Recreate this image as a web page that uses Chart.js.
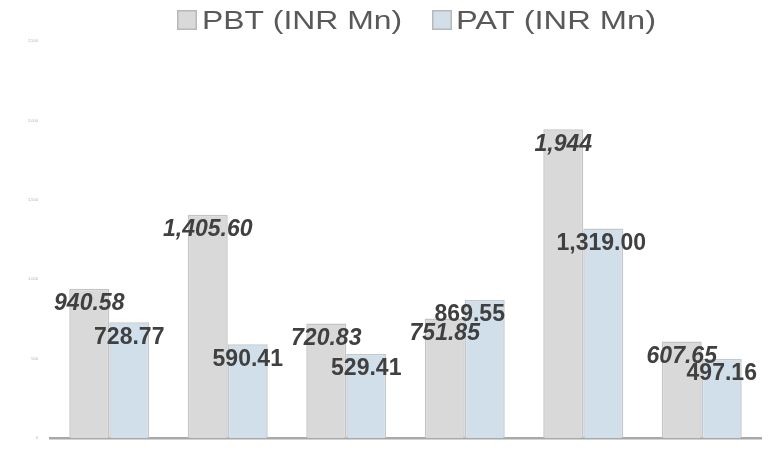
<!DOCTYPE html>
<html>
<head>
<meta charset="utf-8">
<script src="https://cdn.jsdelivr.net/npm/chart.js@4/dist/chart.umd.min.js"></script>
<style>
  html, body { margin: 0; padding: 0; background: #ffffff; }
  #wrap { width: 774px; height: 456px; position: relative; }
</style>
</head>
<body>
<div id="wrap"><canvas id="c" width="774" height="456"></canvas></div>
<script>
// ---- data ----
const categories = ["Period 1", "Period 2", "Period 3", "Period 4", "Period 5", "Period 6"];
const seriesNames = ["PBT (INR Mn)", "PAT (INR Mn)"];
const pbtValues = [940.58, 1405.60, 720.83, 751.85, 1944, 607.65];
const patValues = [728.77, 590.41, 529.41, 869.55, 1319.00, 497.16];
const pbtLabels = ["940.58", "1,405.60", "720.83", "751.85", "1,944", "607.65"];
const patLabels = ["728.77", "590.41", "529.41", "869.55", "1,319.00", "497.16"];
const yTicks = [0, 500, 1000, 1500, 2000, 2500];
const yTickLabels = ["0", "500", "1,000", "1,500", "2,000", "2,500"];

const FONT = "'Liberation Sans', Arial, sans-serif";

// value labels drawn at each bar through the scale-positioned elements
const valueLabelPlugin = {
  id: 'valueLabels',
  afterDatasetsDraw(chart, args, opts) {
    const ctx = chart.ctx;
    chart.data.datasets.forEach((ds, di) => {
      const meta = chart.getDatasetMeta(di);
      const style = opts.styles[di];
      meta.data.forEach((bar, i) => {
        const nudge = (opts.nudges[di] && opts.nudges[di][i]) || 0;
        ctx.save();
        ctx.font = style.font;
        ctx.fillStyle = opts.color;
        ctx.textAlign = 'center';
        ctx.textBaseline = 'middle';
        ctx.fillText(ds.valueLabels[i], bar.x + nudge, bar.y + opts.dy);
        ctx.restore();
      });
    });
  }
};

// legend drawn at top
const topLegendPlugin = {
  id: 'topLegend',
  afterDraw(chart, args, opts) {
    const ctx = chart.ctx;
    chart.data.datasets.forEach((ds, di) => {
      const it = opts.items[di];
      ctx.save();
      ctx.fillStyle = ds.backgroundColor;
      ctx.fillRect(it.boxX, opts.boxY, opts.boxSize, opts.boxSize);
      ctx.strokeStyle = '#b8b8b8';
      ctx.lineWidth = 1.5;
      ctx.strokeRect(it.boxX + 0.75, opts.boxY + 0.75, opts.boxSize - 1.5, opts.boxSize - 1.5);
      ctx.font = opts.font;
      ctx.fillStyle = opts.color;
      ctx.textBaseline = 'alphabetic';
      ctx.textAlign = 'left';
      const w = ctx.measureText(ds.label).width;
      const sx = opts.textWidth / w;
      ctx.translate(it.textX, opts.baseline);
      ctx.scale(sx, 1);
      ctx.fillText(ds.label, 0, 0);
      ctx.restore();
    });
  }
};

new Chart(document.getElementById('c'), {
  type: 'bar',
  data: {
    labels: categories,
    datasets: [
      {
        label: seriesNames[0],
        data: pbtValues,
        valueLabels: pbtLabels,
        backgroundColor: '#d9d9d9',
        borderColor: '#c4c4c4',
        borderWidth: 1.5,
        categoryPercentage: 0.675,
        barPercentage: 1.0
      },
      {
        label: seriesNames[1],
        data: patValues,
        valueLabels: patLabels,
        backgroundColor: '#d0dfea',
        borderColor: '#c4c8cc',
        borderWidth: 1.5,
        categoryPercentage: 0.675,
        barPercentage: 1.0
      }
    ]
  },
  options: {
    responsive: false,
    animation: false,
    devicePixelRatio: 1,
    layout: { padding: { top: 41, right: 13, bottom: 0, left: 0 } },
    scales: {
      x: {
        grid: { display: false, drawTicks: false },
        border: { display: true, color: '#a8a8a8', width: 2.5 },
        ticks: { display: false },
        afterFit(s) { s.height = 18; }
      },
      y: {
        min: 0,
        max: 2500,
        afterBuildTicks(s) { s.ticks = yTicks.map(v => ({ value: v })); },
        grid: { display: false, drawTicks: false },
        border: { display: false },
        ticks: {
          padding: 12,
          color: '#b0b0b0',
          font: { family: FONT, size: 4 },
          callback(v) { const k = yTicks.indexOf(v); return k >= 0 ? yTickLabels[k] : ''; }
        },
        afterFit(s) { s.width = 50; }
      }
    },
    plugins: {
      legend: { display: false },
      tooltip: { enabled: false },
      valueLabels: {
        color: '#404040',
        dy: 15,
        styles: [
          { font: 'italic bold 23px ' + FONT },
          { font: 'bold 23px ' + FONT }
        ],
        nudges: [
          [0, 0, 0, 0, 0, 0],
          [0, 0, 0, -15, -2, 0]
        ]
      },
      topLegend: {
        font: '26px ' + FONT,
        color: '#595959',
        boxY: 10,
        boxSize: 20,
        baseline: 29,
        textWidth: 200,
        items: [
          { boxX: 177, textX: 202 },
          { boxX: 432, textX: 456 }
        ]
      }
    }
  },
  plugins: [valueLabelPlugin, topLegendPlugin]
});
</script>
</body>
</html>
